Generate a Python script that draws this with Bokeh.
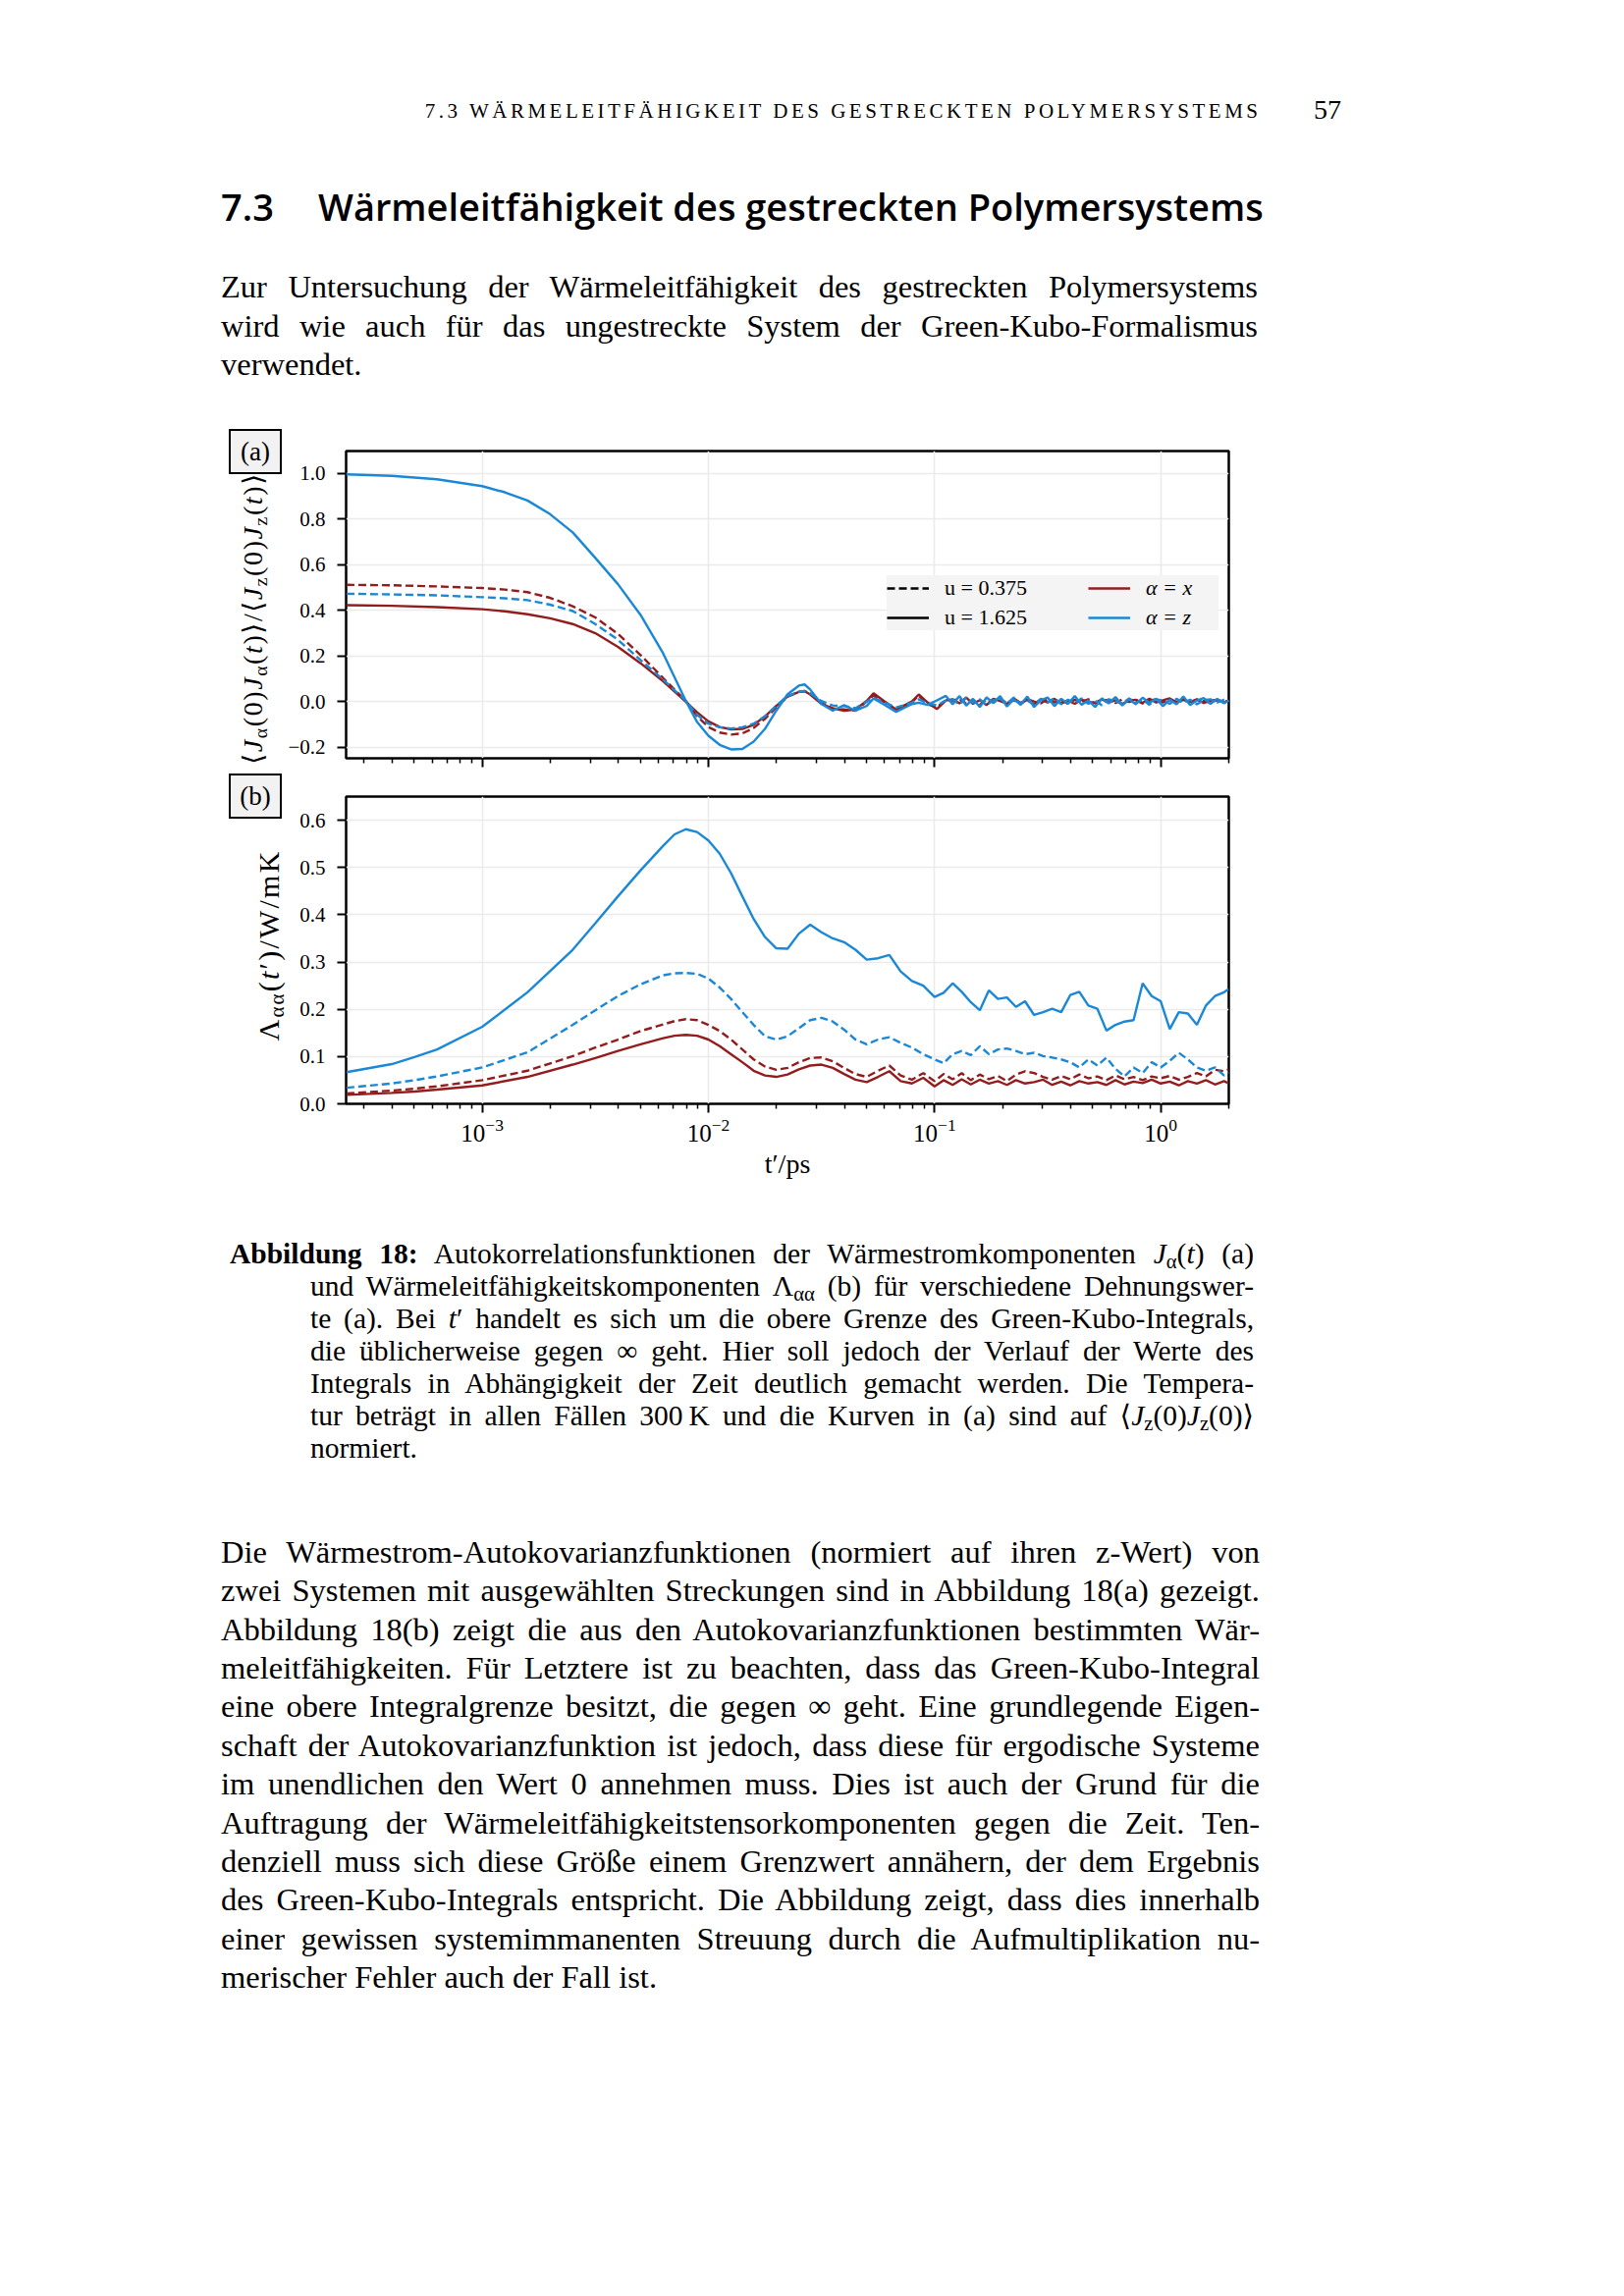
from bokeh.plotting import figure
from bokeh.models import (Div, Legend, LegendItem, FixedTicker,
                          CustomJSTickFormatter, Range1d, LogTickFormatter)
from bokeh.layouts import column, row
from bokeh.embed import file_html
from bokeh.resources import INLINE

# ---------------- data ----------------
# panel (a): time grid as log10(t / ps)
log_t_a = [-3.6, -3.4, -3.2, -3.0, -2.9, -2.8, -2.7, -2.6, -2.5, -2.4, -2.3, -2.2,
           -2.1, -2.05, -2.0, -1.95, -1.9, -1.85, -1.8, -1.75, -1.7, -1.65,
           -1.6, -1.575, -1.55, -1.5, -1.45, -1.4, -1.35, -1.3, -1.27, -1.22,
           -1.17, -1.1, -1.07, -1.03, -0.99, -0.95,
           -0.92, -0.89, -0.86, -0.83, -0.80, -0.77, -0.74, -0.71, -0.68, -0.65,
           -0.62, -0.59, -0.56, -0.53, -0.50, -0.47, -0.44, -0.41, -0.38, -0.35,
           -0.32, -0.29, -0.26, -0.23, -0.20, -0.17, -0.14, -0.11, -0.08, -0.05,
           -0.02, 0.01, 0.04, 0.07, 0.10, 0.13, 0.16, 0.19, 0.22, 0.25,
           0.28, 0.301]

acf_z_u1625 = [0.997, 0.990, 0.975, 0.945, 0.918, 0.882, 0.822, 0.742, 0.630, 0.515, 0.380, 0.211,
               0.003, -0.090, -0.150, -0.190, -0.210, -0.208, -0.176, -0.120, -0.040, 0.032,
               0.070, 0.075, 0.053, -0.011, -0.040, -0.016, -0.040, -0.019, 0.014, -0.015,
               -0.045, -0.011, -0.005, -0.015, 0.005, 0.025,
               -0.012, 0.024, -0.018, 0.012, -0.024, 0.018, -0.006, 0.024, -0.022, 0.010,
               -0.014, 0.022, -0.024, 0.006, 0.018, -0.020, 0.012, -0.010, 0.024, -0.014,
               0.005, -0.024, 0.014, -0.008, 0.020, -0.017, 0.010, -0.012, 0.017, -0.005,
               0.012, -0.020, 0.008, -0.012, 0.022, -0.015, 0.005, 0.015, -0.010, 0.012,
               -0.008, 0.005]

acf_x_u1625 = [0.423, 0.420, 0.414, 0.405, 0.396, 0.383, 0.365, 0.340, 0.300, 0.240, 0.168, 0.089,
               -0.001, -0.047, -0.087, -0.112, -0.122, -0.120, -0.102, -0.065, -0.019, 0.022,
               0.042, 0.046, 0.031, -0.010, -0.030, -0.040, -0.035, 0.003, 0.036, 0.000,
               -0.035, 0.000, 0.031, -0.005, -0.033, 0.005,
               0.010, -0.008, 0.018, -0.010, 0.006, -0.015, 0.012, 0.002, -0.010, 0.014,
               -0.006, 0.008, -0.012, 0.010, -0.004, 0.012, -0.008, 0.004, -0.010, 0.008,
               0.000, -0.006, 0.010, -0.004, 0.006, -0.010, 0.004, 0.008, -0.006, 0.012,
               -0.004, 0.006, 0.014, -0.004, 0.008, -0.002, 0.010, -0.006, 0.004, 0.008,
               -0.004, 0.002]

acf_x_u0375 = [0.512, 0.510, 0.505, 0.498, 0.491, 0.480, 0.455, 0.418, 0.369, 0.297, 0.204, 0.103,
               0.003, -0.065, -0.112, -0.136, -0.145, -0.140, -0.116, -0.076, -0.026, 0.022,
               0.042, 0.046, 0.036, -0.007, -0.030, -0.035, -0.040, 0.000, 0.027, -0.003,
               -0.040, -0.003, 0.026, -0.012, -0.025, 0.007,
               0.004, 0.012, -0.010, 0.008, -0.014, 0.010, -0.004, 0.014, -0.008, 0.006,
               -0.012, 0.010, 0.000, -0.008, 0.012, -0.004, 0.006, -0.010, 0.008, -0.002,
               0.010, -0.008, 0.004, 0.008, -0.006, 0.010, -0.002, 0.006, -0.008, 0.004,
               0.010, -0.004, 0.006, 0.000, 0.010, -0.006, 0.008, 0.002, -0.004, 0.006,
               0.000, 0.004]

acf_z_u0375 = [0.473, 0.470, 0.466, 0.458, 0.453, 0.445, 0.425, 0.397, 0.340, 0.271, 0.182, 0.096,
               0.003, -0.059, -0.097, -0.113, -0.118, -0.113, -0.097, -0.065, -0.019, 0.024,
               0.043, 0.046, 0.036, 0.002, -0.017, -0.020, -0.029, 0.000, 0.016, -0.005,
               -0.026, -0.005, 0.010, -0.008, -0.017, 0.004,
               0.008, -0.012, 0.016, -0.006, 0.010, -0.016, 0.006, 0.012, -0.010, 0.018,
               -0.008, 0.004, -0.014, 0.012, -0.004, 0.016, -0.012, 0.008, -0.006, 0.014,
               -0.010, 0.004, -0.016, 0.010, 0.002, -0.012, 0.014, -0.006, 0.008, -0.014,
               0.010, 0.004, -0.010, 0.012, -0.006, 0.008, -0.012, 0.006, 0.010, -0.004,
               0.008, 0.002]

# panel (b): time grid as log10(t' / ps)
log_t_b = [-3.6, -3.4, -3.3, -3.2, -3.0, -2.8, -2.6, -2.5, -2.4, -2.3,
           -2.2, -2.15, -2.1, -2.05, -2.0, -1.95, -1.9, -1.85, -1.8, -1.75,
           -1.7, -1.65, -1.6, -1.55, -1.5, -1.45, -1.4, -1.35, -1.3, -1.25,
           -1.2, -1.15, -1.1, -1.05, -1.0,
           -0.96, -0.92, -0.88, -0.84, -0.80, -0.76, -0.72, -0.68, -0.64, -0.60,
           -0.56, -0.52, -0.48, -0.44, -0.40, -0.36, -0.32, -0.28, -0.24, -0.20,
           -0.16, -0.12, -0.08, -0.04, 0.0, 0.04, 0.08, 0.12, 0.16, 0.20,
           0.24, 0.28, 0.301]

lam_z_u1625 = [0.067, 0.084, 0.099, 0.115, 0.163, 0.236, 0.326, 0.382, 0.439, 0.494,
               0.546, 0.570, 0.581, 0.575, 0.557, 0.529, 0.488, 0.439, 0.391, 0.353,
               0.329, 0.328, 0.360, 0.379, 0.363, 0.350, 0.342, 0.326, 0.305, 0.308,
               0.315, 0.280, 0.260, 0.250, 0.226,
               0.235, 0.255, 0.237, 0.215, 0.198, 0.240, 0.222, 0.225, 0.205, 0.217,
               0.188, 0.194, 0.201, 0.194, 0.230, 0.237, 0.208, 0.201, 0.155, 0.167,
               0.174, 0.177, 0.255, 0.228, 0.217, 0.158, 0.194, 0.191, 0.167, 0.208,
               0.228, 0.236, 0.243]

lam_z_u0375 = [0.034, 0.043, 0.050, 0.058, 0.077, 0.109, 0.167, 0.198, 0.228, 0.253,
               0.272, 0.276, 0.277, 0.275, 0.265, 0.246, 0.222, 0.194, 0.167, 0.143,
               0.136, 0.143, 0.160, 0.177, 0.182, 0.174, 0.157, 0.136, 0.126, 0.136,
               0.141, 0.129, 0.119, 0.105, 0.094,
               0.086, 0.105, 0.112, 0.103, 0.122, 0.105, 0.115, 0.117, 0.112, 0.105,
               0.108, 0.101, 0.098, 0.094, 0.088, 0.077, 0.094, 0.081, 0.098, 0.074,
               0.058, 0.077, 0.065, 0.088, 0.077, 0.091, 0.108, 0.094, 0.077, 0.070,
               0.077, 0.060, 0.067]

lam_x_u0375 = [0.022, 0.028, 0.032, 0.037, 0.050, 0.070, 0.101, 0.119, 0.136, 0.154,
               0.168, 0.175, 0.179, 0.177, 0.167, 0.154, 0.136, 0.115, 0.094, 0.079,
               0.072, 0.076, 0.088, 0.097, 0.098, 0.090, 0.076, 0.063, 0.057, 0.070,
               0.081, 0.060, 0.051, 0.065, 0.048,
               0.063, 0.052, 0.065, 0.050, 0.062, 0.052, 0.059, 0.048, 0.062, 0.069,
               0.065, 0.057, 0.051, 0.059, 0.052, 0.062, 0.054, 0.058, 0.050, 0.060,
               0.052, 0.057, 0.050, 0.058, 0.054, 0.059, 0.051, 0.057, 0.065, 0.058,
               0.072, 0.069, 0.073]

lam_x_u1625 = [0.019, 0.023, 0.026, 0.030, 0.039, 0.057, 0.083, 0.097, 0.112, 0.126,
               0.139, 0.144, 0.146, 0.144, 0.136, 0.122, 0.105, 0.088, 0.070, 0.060,
               0.057, 0.062, 0.073, 0.081, 0.083, 0.076, 0.063, 0.051, 0.046, 0.057,
               0.069, 0.048, 0.043, 0.055, 0.037,
               0.050, 0.040, 0.052, 0.041, 0.051, 0.043, 0.048, 0.040, 0.050, 0.043,
               0.046, 0.051, 0.040, 0.047, 0.039, 0.048, 0.043, 0.046, 0.040, 0.050,
               0.041, 0.047, 0.044, 0.051, 0.043, 0.047, 0.039, 0.048, 0.043, 0.050,
               0.041, 0.048, 0.043]

x_major_ticks = [1e-3, 1e-2, 1e-1, 1e0]
y_ticks_a = [-0.2, 0.0, 0.2, 0.4, 0.6, 0.8, 1.0]
y_ticks_b = [0.0, 0.1, 0.2, 0.3, 0.4, 0.5, 0.6]
legend_u = ["u = 0.375", "u = 1.625"]
legend_alpha = ["α = x", "α = z"]

t_a = [10 ** e for e in log_t_a]
t_b = [10 ** e for e in log_t_b]

# ---------------- style ----------------
RED = "#931d1d"
BLUE = "#1a88d6"
SERIF = "Liberation Serif"
LW = 2.4
DASH = "8 4"
minor = []
for dec in [1e-4, 1e-3, 1e-2, 1e-1, 1e0]:
    for k in range(2, 10):
        v = k * dec
        if 2.5e-4 <= v <= 2.0:
            minor.append(v)

ytick_fmt = CustomJSTickFormatter(code="return tick.toFixed(1).replace('-', '\\u2212');")

LEFT_W = 290          # width of the html column left of each figure
FIG_W = 1290 - LEFT_W


def make_fig(height, yr, top, bottom, yticks):
    p = figure(width=FIG_W, height=height, x_axis_type="log",
               x_range=Range1d(2.5e-4, 2.0), y_range=Range1d(*yr),
               output_backend="svg", toolbar_location=None,
               min_border_left=62, min_border_right=39,
               min_border_top=top, min_border_bottom=bottom)
    p.background_fill_color = "white"
    p.border_fill_color = "white"
    p.outline_line_color = "black"
    p.outline_line_width = 2.5
    p.xgrid.grid_line_color = "#ebebeb"
    p.ygrid.grid_line_color = "#ebebeb"
    p.xgrid.grid_line_width = 1.6
    p.ygrid.grid_line_width = 1.6
    p.xaxis.ticker = FixedTicker(ticks=x_major_ticks, minor_ticks=minor)
    p.yaxis.ticker = FixedTicker(ticks=yticks)
    p.yaxis.formatter = ytick_fmt
    for ax in (p.xaxis[0], p.yaxis[0]):
        ax.axis_line_color = None
        ax.major_tick_in = 0
        ax.major_tick_out = 9
        ax.major_tick_line_width = 2
        ax.major_tick_line_color = "black"
        ax.minor_tick_in = 0
        ax.minor_tick_out = 5
        ax.minor_tick_line_width = 1.5
        ax.minor_tick_line_color = "black"
        ax.major_label_text_font = SERIF
        ax.major_label_text_font_size = "21px"
        ax.major_label_text_color = "black"
        ax.axis_label_text_font = SERIF
        ax.axis_label_text_font_style = "normal"
        ax.axis_label_text_color = "black"
    p.yaxis.minor_tick_line_color = None
    p.yaxis.major_label_standoff = 12
    return p


fa = make_fig(356, (-0.249, 1.099), 29, 14, y_ticks_a)
fa.xaxis.formatter = CustomJSTickFormatter(code="return '';")
fa.xaxis.major_label_text_font_size = "0px"

fb = make_fig(424, (0.0, 0.65), 25, 86, y_ticks_b)
fb.xaxis.formatter = LogTickFormatter()
fb.xaxis.major_label_text_font_size = "25px"
fb.xaxis.major_label_standoff = 6
fb.xaxis.axis_label = "t′/ps"
fb.xaxis.axis_label_text_font_size = "28px"
fb.xaxis.axis_label_standoff = 4

# curves panel (a)
fa.line(t_a, acf_x_u0375, line_color=RED, line_width=LW, line_dash=DASH)
fa.line(t_a, acf_x_u1625, line_color=RED, line_width=LW)
fa.line(t_a, acf_z_u0375, line_color=BLUE, line_width=LW, line_dash=DASH)
fa.line(t_a, acf_z_u1625, line_color=BLUE, line_width=LW)

# curves panel (b)
fb.line(t_b, lam_x_u0375, line_color=RED, line_width=LW, line_dash=DASH)
fb.line(t_b, lam_x_u1625, line_color=RED, line_width=LW)
fb.line(t_b, lam_z_u0375, line_color=BLUE, line_width=LW, line_dash=DASH)
fb.line(t_b, lam_z_u1625, line_color=BLUE, line_width=LW)

# legend proxies (NaN data: never drawn in the plot area)
nan = float("nan")
r_d = fa.line([nan], [nan], line_color="black", line_width=LW, line_dash=DASH)
r_s = fa.line([nan], [nan], line_color="black", line_width=LW)
r_r = fa.line([nan], [nan], line_color=RED, line_width=LW)
r_b = fa.line([nan], [nan], line_color=BLUE, line_width=LW)


def style_legend(lg, lw, italic):
    lg.background_fill_color = "#f4f4f4"
    lg.background_fill_alpha = 1.0
    lg.border_line_color = None
    lg.padding = 8
    lg.spacing = 4
    lg.margin = 0
    lg.glyph_width = 43
    lg.glyph_height = 20
    lg.label_height = 20
    lg.label_width = lw
    lg.label_standoff = 16
    lg.label_text_font = SERIF
    lg.label_text_font_size = "22px"
    lg.label_text_font_style = "italic" if italic else "normal"
    lg.label_text_color = "black"


leg1 = Legend(items=[LegendItem(label=legend_u[0], renderers=[r_d]),
                     LegendItem(label=legend_u[1], renderers=[r_s])],
              location=(551, 130))
style_legend(leg1, 149, False)
leg2 = Legend(items=[LegendItem(label=legend_alpha[0], renderers=[r_r]),
                     LegendItem(label=legend_alpha[1], renderers=[r_b])],
              location=(756, 130))
style_legend(leg2, 74, True)
fa.add_layout(leg1)
fa.add_layout(leg2)

# ---------------- html helpers ----------------
FAM = "'Liberation Serif','DejaVu Serif',serif"
DY = 2.0


def tline(text, left, base, width, fs, top0, justify=True, family=FAM, k=0.8375, extra=""):
    top = base - k * fs - top0 + DY
    ta = "text-align:justify;text-align-last:justify;" if justify else "text-align:left;"
    return (f'<div style="position:absolute;left:{left}px;top:{top:.1f}px;width:{width}px;'
            f'font-family:{family};font-size:{fs}px;line-height:{fs}px;color:#000;{ta}{extra}">'
            f'{text}</div>')


SUB = 'style="font-size:0.7em;line-height:0;vertical-align:-0.25em"'


def wrap(parts, w, h):
    return f'<div style="position:relative;width:{w}px;height:{h}px;">' + "".join(parts) + "</div>"


def side_html(tag, box_top, label_html, cx, cy, h, lab_fs, lab_ls):
    box = (f'<div style="position:absolute;left:233px;top:{box_top}px;width:54px;height:46px;'
           f'box-sizing:border-box;border:2px solid #000;background:#f2f2f2;'
           f'font-family:{FAM};font-size:27px;line-height:42px;text-align:center;color:#000;">{tag}</div>')
    W = 420
    lab = (f'<div style="position:absolute;left:{cx - W / 2}px;top:{cy - 17}px;width:{W}px;height:34px;'
           f'line-height:34px;text-align:center;white-space:nowrap;font-family:{FAM};'
           f'font-size:{lab_fs}px;letter-spacing:{lab_ls}px;color:#000;transform:rotate(-90deg);'
           f'transform-origin:50% 50%;">{label_html}</div>')
    return wrap([box, lab], LEFT_W, h)


# ---------------- page text ----------------
h1 = 430
parts = []
parts.append(tline("7.3 WÄRMELEITFÄHIGKEIT DES GESTRECKTEN POLYMERSYSTEMS", 0, 119, 1284.5, 21, 0,
                   justify=False, extra="text-align:right;letter-spacing:3.5px;"))
parts.append(tline("57", 1338, 119, 60, 28, 0, justify=False))
parts.append(tline("7.3", 225, 223, 90, 38, 0, justify=False,
                   family="'Open Sans',sans-serif", k=0.888, extra="font-weight:600;"))
parts.append(tline("Wärmeleitfähigkeit des gestreckten Polymersystems", 324, 223, 1100, 38, 0,
                   justify=False, family="'Open Sans',sans-serif", k=0.888,
                   extra="font-weight:600;"))
para1 = ["Zur Untersuchung der Wärmeleitfähigkeit des gestreckten Polymersystems",
         "wird wie auch für das ungestreckte System der Green-Kubo-Formalismus",
         "verwendet."]
for i, s in enumerate(para1):
    parts.append(tline(s, 225, 301.3 + 39.5 * i, 1056, 32.5, 0, justify=(i < len(para1) - 1)))
div1 = Div(text=wrap(parts, 1654, h1), width=1654, height=h1, margin=0)

ylab_a = (f'⟨<i>J</i><sub {SUB}>α</sub>(0)<i>J</i><sub {SUB}>α</sub>(<i>t</i>)⟩/'
          f'⟨<i>J</i><sub {SUB}>z</sub>(0)<i>J</i><sub {SUB}>z</sub>(<i>t</i>)⟩')
ylab_b = f'Λ<sub {SUB}>αα</sub>(<i>t</i>′)/W/mK'
side_a = Div(text=side_html("(a)", 7, ylab_a, 258, 630 - 430, 356, 28, 1.6),
             width=LEFT_W, height=356, margin=0)
side_b = Div(text=side_html("(b)", 2, ylab_b, 274, 963 - 786, 424, 30, 2.2),
             width=LEFT_W, height=424, margin=0)

top2 = h1 + 356 + 424
h2 = 1100
parts = []
caption = [
    f'<b>Abbildung 18:</b> Autokorrelationsfunktionen der Wärmestromkomponenten <i>J</i><sub {SUB}>α</sub>(<i>t</i>) (a)',
    f'und Wärmeleitfähigkeitskomponenten Λ<sub {SUB}>αα</sub> (b) für verschiedene Dehnungswer-',
    'te (a). Bei <i>t</i>′ handelt es sich um die obere Grenze des Green-Kubo-Integrals,',
    'die üblicherweise gegen ∞ geht. Hier soll jedoch der Verlauf der Werte des',
    'Integrals in Abhängigkeit der Zeit deutlich gemacht werden. Die Tempera-',
    f'tur beträgt in allen Fällen 300&#8201;K und die Kurven in (a) sind auf ⟨<i>J</i><sub {SUB}>z</sub>(0)<i>J</i><sub {SUB}>z</sub>(0)⟩',
    'normiert.',
]
cap_base = [1286, 1319, 1352, 1385, 1418, 1450.5, 1483.5]
for i, s in enumerate(caption):
    left = 234 if i == 0 else 316
    parts.append(tline(s, left, cap_base[i], 1277 - left, 29.5, top2, justify=(i < len(caption) - 1)))
body = [
    "Die Wärmestrom-Autokovarianzfunktionen (normiert auf ihren z-Wert) von",
    "zwei Systemen mit ausgewählten Streckungen sind in Abbildung 18(a) gezeigt.",
    "Abbildung 18(b) zeigt die aus den Autokovarianzfunktionen bestimmten Wär-",
    "meleitfähigkeiten. Für Letztere ist zu beachten, dass das Green-Kubo-Integral",
    "eine obere Integralgrenze besitzt, die gegen ∞ geht. Eine grundlegende Eigen-",
    "schaft der Autokovarianzfunktion ist jedoch, dass diese für ergodische Systeme",
    "im unendlichen den Wert 0 annehmen muss. Dies ist auch der Grund für die",
    "Auftragung der Wärmeleitfähigkeitstensorkomponenten gegen die Zeit. Ten-",
    "denziell muss sich diese Größe einem Grenzwert annähern, der dem Ergebnis",
    "des Green-Kubo-Integrals entspricht. Die Abbildung zeigt, dass dies innerhalb",
    "einer gewissen systemimmanenten Streuung durch die Aufmultiplikation nu-",
    "merischer Fehler auch der Fall ist.",
]
for i, s in enumerate(body):
    parts.append(tline(s, 225, 1590 + 39.4 * i, 1058, 32.5, top2, justify=(i < len(body) - 1)))
div2 = Div(text=wrap(parts, 1654, h2), width=1654, height=h2, margin=0)

layout = column(div1,
                row(side_a, fa),
                row(side_b, fb),
                div2)

open("out.html", "w").write(file_html(layout, INLINE))
